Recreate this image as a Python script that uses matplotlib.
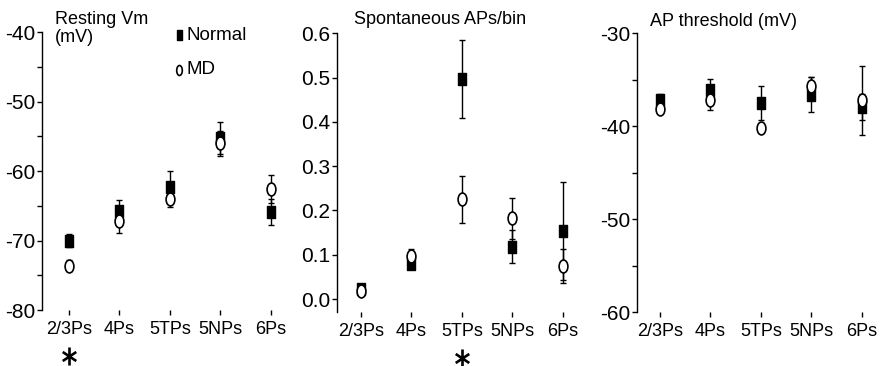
import matplotlib
matplotlib.use("Agg")
import matplotlib.pyplot as plt
from matplotlib.path import Path
from matplotlib.transforms import Affine2D, blended_transform_factory
from matplotlib.ticker import MultipleLocator

plt.rcParams['font.family'] = ['Liberation Sans', 'DejaVu Sans']
plt.rcParams['axes.unicode_minus'] = False

##################################
# Data
##################################
cells = ["2/3Ps", "4Ps", "5TPs", "5NPs", "6Ps"]

vm_normal = [-70.0, -65.7, -62.3, -55.3, -65.9]
vm_normal_err = [1.0, 1.5, 2.3, 2.3, 1.9]
vm_md = [-73.6, -67.2, -64.1, -56.0, -62.6]
vm_md_err = [0.8, 1.7, 1.1, 1.8, 2.0]
vm_sig = ["2/3Ps"]

ap_normal = [0.022, 0.080, 0.497, 0.118, 0.154]
ap_normal_err = [0.005, 0.012, 0.088, 0.037, 0.110]
ap_md = [0.018, 0.097, 0.225, 0.182, 0.075]
ap_md_err = [0.005, 0.015, 0.053, 0.047, 0.038]
ap_sig = ["5TPs"]

thr_normal = [-37.2, -36.1, -37.5, -36.6, -37.9]
thr_normal_err = [0.7, 1.2, 1.8, 1.9, 1.4]
thr_md = [-38.1, -37.2, -40.2, -35.7, -37.2]
thr_md_err = [0.5, 1.1, 0.5, 1.0, 3.7]
thr_sig = []

# slightly tall markers like the original scan
def box(sx):
    return Path.unit_rectangle().transformed(Affine2D().translate(-0.5, -0.5).scale(sx, 1.0))


def oval(sx):
    return Path.unit_circle().transformed(Affine2D().scale(sx, 1.0))


star = Path([(0, -1), (0, 1), (-0.75, -0.5), (0.75, 0.5), (-0.75, 0.5), (0.75, -0.5)],
            [Path.MOVETO, Path.LINETO, Path.MOVETO, Path.LINETO, Path.MOVETO, Path.LINETO])

W, H = 882, 366
fig = plt.figure(figsize=(W / 100, H / 100), dpi=100)


def make_axes(spine_px, first_tick_px, top_px, bottom_px, spacing=50.4):
    x0 = (first_tick_px - spine_px) / spacing
    width = (4 + x0 + 0.5) * spacing
    ax = fig.add_axes([spine_px / W, (H - bottom_px) / H, width / W, (bottom_px - top_px) / H])
    ax.set_xlim(-x0, 4.5)
    return ax


def draw(ax, normal, normal_err, md, md_err, sig):
    x = list(range(len(cells)))
    ax.errorbar(x, normal, yerr=normal_err, fmt='none', ecolor='black',
                elinewidth=1.0, capsize=2.3, capthick=1.0, zorder=2)
    ax.plot(x, normal, linestyle='none', marker=box(0.75), markersize=8.6,
            color='black', zorder=3)
    ax.errorbar(x, md, yerr=md_err, fmt='none', ecolor='black',
                elinewidth=1.0, capsize=2.3, capthick=1.0, zorder=4)
    ax.plot(x, md, linestyle='none', marker=oval(0.68), markersize=9.3,
            markerfacecolor='white', markeredgecolor='black',
            markeredgewidth=1.2, zorder=5)

    ax.set_xticks(x)
    ax.set_xticklabels(cells, fontsize=13)
    for side in ['top', 'right', 'bottom']:
        ax.spines[side].set_visible(False)
    ax.spines['left'].set_linewidth(1.0)
    ax.tick_params(axis='x', length=3.8, width=1.0, pad=4, direction='out')
    ax.tick_params(axis='y', which='major', length=3.8, width=1.0, pad=1, labelsize=15)
    ax.tick_params(axis='y', which='minor', length=3.8, width=1.0)

    trans = blended_transform_factory(ax.transData, ax.transAxes)
    for name in sig:
        ax.plot([cells.index(name)], [-0.165], transform=trans, clip_on=False,
                marker=star, markersize=13, markeredgewidth=1.9,
                color='black')


##################################
# Panel 1 - resting Vm
##################################
ax1 = make_axes(41.7, 69, 32, 310)
draw(ax1, vm_normal, vm_normal_err, vm_md, vm_md_err, vm_sig)
ax1.set_ylim(-80, -40)
ax1.yaxis.set_major_locator(MultipleLocator(10))
ax1.yaxis.set_minor_locator(MultipleLocator(5))
fig.text(55 / W, 1 - 11 / H, "Resting Vm\n(mV)", fontsize=13, ha='left', va='top',
         linespacing=1.1)

# legend
ax1.plot([179 / W], [1 - 35 / H], transform=fig.transFigure, marker=box(0.5),
         markersize=7.2, color='black', clip_on=False, linestyle='none')
ax1.plot([179 / W], [1 - 70 / H], transform=fig.transFigure, marker=oval(0.56),
         markersize=7.2, markerfacecolor='white', markeredgecolor='black',
         markeredgewidth=1.2, clip_on=False, linestyle='none')
fig.text(187 / W, 1 - 36 / H, "Normal", fontsize=13.5, va='center')
fig.text(187 / W, 1 - 70 / H, "MD", fontsize=13.5, va='center')

##################################
# Panel 2 - spontaneous APs
##################################
ax2 = make_axes(337, 361, 33.3, 312.3)
draw(ax2, ap_normal, ap_normal_err, ap_md, ap_md_err, ap_sig)
ax2.set_ylim(-0.03, 0.6)
ax2.set_yticks([0.0, 0.1, 0.2, 0.3, 0.4, 0.5, 0.6])
ax2.set_yticklabels(["0.0", "0.1", "0.2", "0.3", "0.4", "0.5", "0.6"])
fig.text(440 / W, 1 - 20 / H, "Spontaneous APs/bin", fontsize=13, ha='center', va='center')

##################################
# Panel 3 - AP threshold
##################################
ax3 = make_axes(637, 660, 33.3, 312)
draw(ax3, thr_normal, thr_normal_err, thr_md, thr_md_err, thr_sig)
ax3.set_ylim(-60, -30)
ax3.yaxis.set_major_locator(MultipleLocator(10))
ax3.yaxis.set_minor_locator(MultipleLocator(5))
fig.text(723 / W, 1 - 21 / H, "AP threshold (mV)", fontsize=13, ha='center', va='center')

fig.savefig("out.png", dpi=100)
